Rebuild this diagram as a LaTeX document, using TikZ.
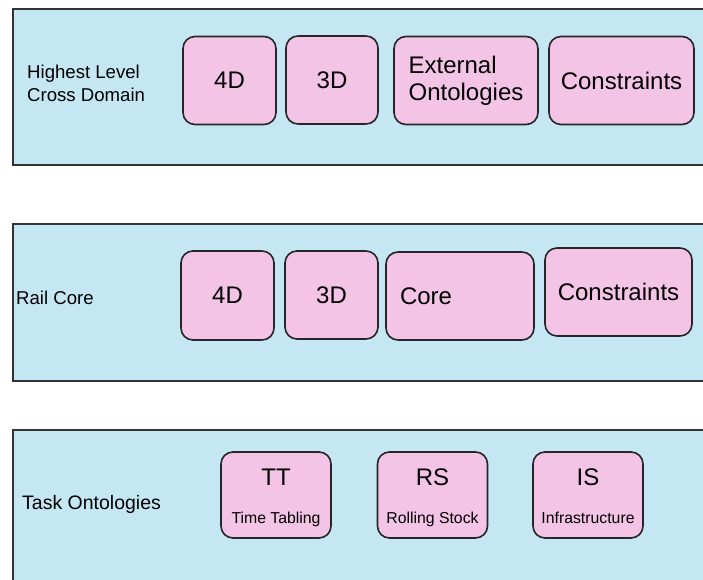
\documentclass[tikz,border=0pt]{standalone}
\usepackage{fontspec}
\setmainfont{Liberation Sans}

\definecolor{layerblue}{RGB}{197,231,243}
\definecolor{ontopink}{RGB}{244,196,230}

\tikzstyle{layer}=[draw=black!80,line width=2pt,fill=layerblue,rectangle,inner sep=0pt,anchor=north west]
\tikzstyle{onto}=[draw=black!85,line width=1.6pt,fill=ontopink,rectangle,rounded corners=12pt,inner sep=0pt,font=\fontsize{24}{27}\selectfont]
\tikzstyle{lvl}=[anchor=west,inner sep=0pt,align=left,font=\fontsize{18.6}{23}\selectfont]
\tikzstyle{abbr}=[anchor=base,inner sep=0pt,font=\fontsize{24}{27}\selectfont]
\tikzstyle{sub}=[anchor=base,inner sep=0pt,font=\fontsize{15.8}{17}\selectfont]

\begin{document}
\begin{tikzpicture}[x=1pt,y=-1pt]
			\useasboundingbox (0,0) rectangle (703,580);
			\clip (0,0) rectangle (703,580);
			% layers
			\node (L1) [layer,minimum width=720pt,minimum height=156pt] at (12,8) {};
			\node (L2) [layer,minimum width=720pt,minimum height=157pt] at (12,223) {};
			\node (L3) [layer,minimum width=720pt,minimum height=200pt] at (12,429) {};
			\node (L1txt) [lvl] at (27,83) {Highest Level\\Cross Domain};
			\node (L2txt) [lvl] at (16,298) {Rail Core};
			\node (L3txt) [lvl,font=\fontsize{19.5}{23}\selectfont] at (22,504.5) {Task Ontologies};
			
			% highest level
			\node (h4D) [onto,minimum width=93pt,minimum height=88pt] at (229.5,80.5) {4D};
			\node (h3D) [onto,minimum width=92pt,minimum height=88pt] at (332,80) {3D};
			\node (hExt) [onto,minimum width=144pt,minimum height=88pt,align=left] at (466,80.5) {External\\Ontologies};
			\node (hCon) [onto,minimum width=145pt,minimum height=88pt] at (621.5,80.5) {Constraints};
			
			% rail core
			\node (r4D) [onto,minimum width=93pt,minimum height=89pt] at (227.5,295.5) {4D};
			\node (r3D) [onto,minimum width=93pt,minimum height=88pt] at (331.5,295) {3D};
			\node (rCore) [onto,minimum width=148pt,minimum height=88pt,text width=120pt,inner xsep=14pt,align=left] at (460,296) {Core};
			\node (rCon) [onto,minimum width=147pt,minimum height=88pt] at (618.5,292) {Constraints};
			
			% task ontologies
			\foreach \nm/\cx/\ab/\full in {TT/276/TT/Time Tabling,RS/432.5/RS/Rolling Stock,IS/588/IS/Infrastructure}{
				\node (\nm) [onto,minimum width=110pt,minimum height=86pt] at (\cx,495) {};
				\node (\nm-ab) [abbr] at (\cx,485) {\ab};
				\node (\nm-full) [sub] at (\cx,523) {\full};
			}
		\end{tikzpicture}
\end{document}
